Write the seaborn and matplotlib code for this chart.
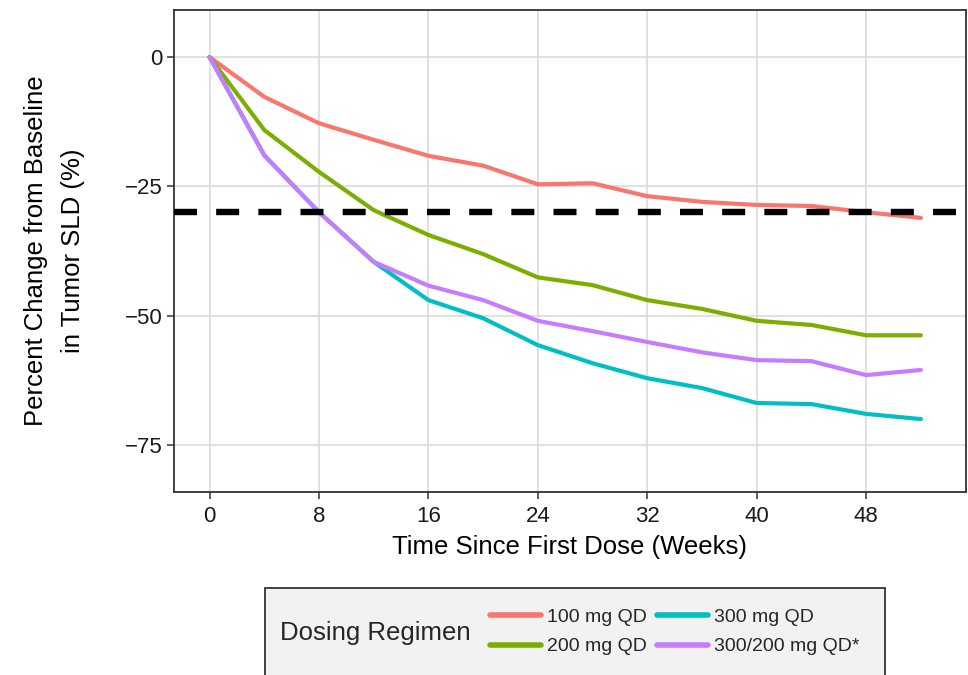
import numpy as np
import pandas as pd
import matplotlib
matplotlib.use("Agg")
import matplotlib.pyplot as plt
import seaborn as sns
from matplotlib.patches import Rectangle
from matplotlib.lines import Line2D

weeks = [0, 4, 8, 12, 16, 20, 24, 28, 32, 36, 40, 44, 48, 52]
dose_100 = [0, -7.7, -12.8, -16.0, -19.1, -21.0, -24.6, -24.4, -26.9, -28.0, -28.6, -28.8, -30.0, -31.1]
dose_200 = [0, -14.1, -22.2, -29.6, -34.4, -38.1, -42.6, -44.1, -47.0, -48.7, -51.0, -51.8, -53.8, -53.8]
dose_300 = [0, -19.0, -30.0, -39.6, -47.0, -50.5, -55.7, -59.2, -62.1, -64.0, -66.9, -67.1, -69.0, -70.0]
dose_300_200 = [0, -19.0, -30.0, -39.6, -44.2, -47.0, -51.0, -53.0, -55.1, -57.1, -58.6, -58.8, -61.5, -60.5]
regimens = ["100 mg QD", "200 mg QD", "300 mg QD", "300/200 mg QD*"]
colors = ["#F8766D", "#7CAE00", "#00BFC4", "#C77CFF"]
threshold = -30
x_ticks = [0, 8, 16, 24, 32, 40, 48]
y_ticks = [0, -25, -50, -75]

df = pd.DataFrame({
    "Week": weeks * 4,
    "Change": dose_100 + dose_200 + dose_300 + dose_300_200,
    "Regimen": sum([[r] * len(weeks) for r in regimens], []),
})

sns.set_theme(style="white")
plt.rcParams["font.family"] = ["Liberation Sans", "DejaVu Sans"]

fig = plt.figure(figsize=(9.68, 6.75), dpi=100)
ax = fig.add_axes([174 / 968, 1 - 492 / 675, (966 - 174) / 968, (492 - 10) / 675])

sns.lineplot(data=df, x="Week", y="Change", hue="Regimen", hue_order=regimens,
             palette=colors, linewidth=3.0, ax=ax, legend=False, zorder=3)
ax.axhline(threshold, color="black", linestyle=(0, (3.6, 3.0)), linewidth=4.6, zorder=4)

ax.set_xlim(-2.6, 55.3)
ax.set_ylim(-84.1, 9.1)
ax.set_xticks(x_ticks)
ax.set_yticks(y_ticks)
ax.set_yticklabels(["0", "\u221225", "\u221250", "\u221275"])
ax.grid(True, color="#D9D9D9", linewidth=1.1, zorder=0)
ax.set_axisbelow(True)
for s in ax.spines.values():
    s.set_color("#333333")
    s.set_linewidth(1.3)
ax.tick_params(axis="both", which="major", direction="out", length=5, width=1.1,
               color="#333333", labelsize=16, labelcolor="#1a1a1a", pad=3, bottom=True, left=True)
ax.tick_params(axis="x", pad=5)
ax.set_xlabel("Time Since First Dose (Weeks)", fontsize=18.5, color="black", labelpad=6)
ax.set_ylabel("Percent Change from Baseline\nin Tumor SLD (%)", fontsize=18.5, color="black",
              labelpad=29, linespacing=1.7)

# Legend box
fig.patches.append(Rectangle((265 / 968, 1 - 720 / 675), (885 - 265) / 968, (720 - 588) / 675,
                             transform=fig.transFigure, facecolor="#F2F2F2",
                             edgecolor="#333333", linewidth=1.3))
fig.text(280 / 968, 1 - 633 / 675, "Dosing Regimen", fontsize=18.5, va="center", ha="left")
handles = [Line2D([0], [0], color=c, linewidth=4) for c in colors]
leg = fig.legend(handles, regimens, ncol=2, frameon=False, fontsize=14,
                 loc="center left", bbox_to_anchor=(490 / 968, 1 - 632 / 675),
                 handlelength=2.6, handletextpad=0.35, columnspacing=0.5, labelspacing=0.6,
                 borderpad=0, borderaxespad=0)

fig.savefig("out.png", dpi=100)
